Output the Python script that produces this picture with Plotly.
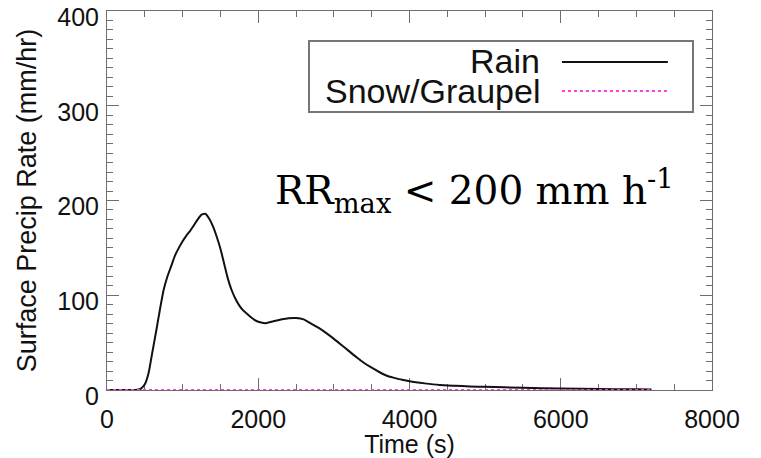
import plotly.graph_objects as go

# ---- data ----
time_s = [0, 100, 200, 300, 400, 450, 500, 550, 600, 650, 700, 750, 800, 850, 900,
          950, 1000, 1050, 1100, 1150, 1200, 1250, 1300, 1350, 1400, 1450, 1500,
          1550, 1600, 1650, 1700, 1750, 1800, 1850, 1900, 1950, 2000, 2100, 2200,
          2300, 2400, 2500, 2600, 2700, 2800, 2900, 3000, 3100, 3200, 3300, 3400,
          3500, 3600, 3700, 3800, 3900, 4000, 4200, 4400, 4600, 4800, 5000, 5500,
          6000, 6500, 7000, 7200]
rain = [0, 0, 0, 0, 0.3, 1.5, 6, 18, 40, 62, 85, 106, 120, 131, 142,
        150, 157, 163, 168, 174, 180, 185, 186, 181, 173, 162, 149,
        133, 117, 105, 96, 89, 84, 80.5, 77, 74, 72, 70.5, 72.5,
        74.3, 75.7, 76, 74.6, 70, 65.5, 60, 54, 47.5, 41, 34.5, 28.5,
        23.5, 19, 15, 12.8, 10.8, 9.2, 7, 5.3, 4.5, 3.8, 3.3, 2.3,
        1.6, 1.1, 0.7, 0.6]
snow_time = [0, 7200]
snow = [0, 0]

legend_labels = ["Rain", "Snow/Graupel"]
annotation_text = "RR<sub>max</sub> &lt; 200 mm h<sup>-1</sup>"

x_ticks = [0, 2000, 4000, 6000, 8000]
y_ticks = [0, 100, 200, 300, 400]

rain_color = "#111111"
snow_color = "#ff3fd6"
axis_color = "#6e6e6e"
sans = "Liberation Sans, Arial, sans-serif"

fig = go.Figure()
fig.add_trace(go.Scatter(x=time_s, y=rain, mode="lines", name=legend_labels[0],
                         line=dict(color=rain_color, width=2, shape="spline", smoothing=0.5)))
fig.add_trace(go.Scatter(x=snow_time, y=snow, mode="lines", name=legend_labels[1],
                         cliponaxis=False,
                         line=dict(color=snow_color, width=2.2, dash="3px,3px")))

axis_common = dict(showgrid=False, zeroline=False, showline=True, linecolor=axis_color,
                   linewidth=1, mirror="ticks", ticks="inside", tickcolor=axis_color,
                   ticklen=12, tickwidth=1, ticklabeloverflow="allow", automargin=False,
                   layer="below traces",
                   tickfont=dict(family=sans, size=25, color="#111111"))

fig.update_layout(
    width=761, height=458,
    margin=dict(l=107, r=49, t=11, b=68),
    paper_bgcolor="white", plot_bgcolor="white",
    showlegend=False,
    xaxis=dict(range=[0, 8000], tickvals=x_ticks, ticklabelstandoff=7,
               title=dict(text="Time (s)", font=dict(family=sans, size=25, color="#111111"),
                          standoff=0),
               minor=dict(dtick=500, ticks="inside", ticklen=6, tickcolor=axis_color),
               **axis_common),
    yaxis=dict(range=[0, 400], tickvals=y_ticks, ticklabelstandoff=2, ticklabelshift=6,
               title=dict(text="Surface Precip Rate (mm/hr)",
                          font=dict(family=sans, size=27, color="#111111"), standoff=12),
               minor=dict(dtick=10, ticks="inside", ticklen=6, tickcolor=axis_color),
               **axis_common),
)

# ---- legend drawn as in the reference (text right-aligned, sample line on the right) ----
fig.add_shape(type="rect", xref="paper", yref="paper", x0=0.3339, x1=0.9686,
              y0=0.7335, y1=0.9208, line=dict(color="#777777", width=2),
              fillcolor="white", layer="above")
fig.add_shape(type="line", xref="paper", yref="paper", x0=0.752, x1=0.927,
              y0=0.8654, y1=0.8654, line=dict(color=rain_color, width=2))
fig.add_shape(type="line", xref="paper", yref="paper", x0=0.752, x1=0.927,
              y0=0.7889, y1=0.7889, line=dict(color=snow_color, width=2.2, dash="3px,3px"))
for label, yy in zip(legend_labels, [0.868, 0.789]):
    fig.add_annotation(x=0.719, y=yy, xref="paper", yref="paper", text=label,
                       showarrow=False, xanchor="right", yanchor="middle",
                       font=dict(family=sans, size=34, color="#111111"))

fig.add_annotation(x=0.274, y=0.525, xref="paper", yref="paper", text=annotation_text,
                   showarrow=False, xanchor="left", yanchor="middle",
                   font=dict(family="DejaVu Serif, Liberation Serif, serif", size=39,
                             color="#000000"))

fig.write_html("out.html")
